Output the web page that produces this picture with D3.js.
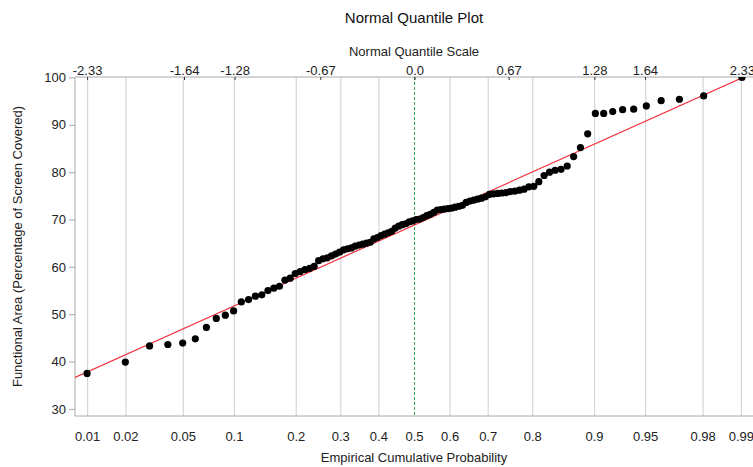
<!DOCTYPE html>
<html>
<head>
<meta charset="utf-8">
<script src="https://cdn.jsdelivr.net/npm/d3@7"></script>
<style>
body { margin: 0; background: #fff; }
svg { font-family: "Liberation Sans", Arial, Helvetica, sans-serif; }
</style>
</head>
<body>
<svg width="753" height="467"></svg>
<script>
// sorted observations, plotted at rank/(n+1)
var areaValues = [
	37.5, 39.9, 43.3, 43.6, 43.9, 44.8, 47.2, 49.1, 49.8, 50.7,
	52.6, 53.1, 53.8, 54.1, 55.0, 55.5, 55.9, 57.2, 57.6, 58.6,
	59.0, 59.4, 59.7, 60.1, 61.3, 61.7, 61.9, 62.3, 62.7, 63.1,
	63.6, 63.8, 64.0, 64.4, 64.6, 64.8, 65.0, 65.2, 65.9, 66.2,
	66.6, 66.9, 67.2, 67.5, 68.2, 68.6, 68.9, 69.1, 69.5, 69.7,
	70.0, 70.1, 70.4, 70.8, 71.1, 71.5, 72.0, 72.1, 72.2, 72.3,
	72.4, 72.6, 72.8, 73.0, 73.6, 73.9, 74.1, 74.3, 74.5, 74.8,
	75.3, 75.4, 75.5, 75.6, 75.7, 75.9, 76.0, 76.2, 76.4, 76.9,
	77.0, 78.0, 79.3, 80.0, 80.4, 80.6, 81.3, 83.3, 85.2, 88.1,
	92.4, 92.4, 92.8, 93.2, 93.3, 94.0, 95.1, 95.4, 96.1, 100.0
];
var fitLine = [68.85, 13.33]; // mean, std dev of the normal fit
var probTicks = [0.01, 0.02, 0.05, 0.1, 0.2, 0.3, 0.4, 0.5, 0.6, 0.7, 0.8, 0.9, 0.95, 0.98, 0.99];
var quantTicks = [-2.33, -1.64, -1.28, -0.67, 0.0, 0.67, 1.28, 1.64, 2.33];
var yTicks = [30, 40, 50, 60, 70, 80, 90, 100];

// inverse normal cdf (Acklam)
function probit(p) {
	var a = [-39.69683028665376, 220.9460984245205, -275.9285104469687, 138.3577518672690, -30.66479806614716, 2.506628277459239],
		b = [-54.47609879822406, 161.5858368580409, -155.6989798598866, 66.80131188771972, -13.28068155288572],
		c = [-0.007784894002430293, -0.3223964580411365, -2.400758277161838, -2.549732539343734, 4.374664141464968, 2.938163982698783],
		d = [0.007784695709041462, 0.3224671290700398, 2.445134137142996, 3.754408661907416];
	var q, r;
	if (p < 0.02425) {
		q = Math.sqrt(-2 * Math.log(p));
		return (((((c[0]*q+c[1])*q+c[2])*q+c[3])*q+c[4])*q+c[5]) / ((((d[0]*q+d[1])*q+d[2])*q+d[3])*q+1);
	} else if (p > 1 - 0.02425) {
		q = Math.sqrt(-2 * Math.log(1 - p));
		return -(((((c[0]*q+c[1])*q+c[2])*q+c[3])*q+c[4])*q+c[5]) / ((((d[0]*q+d[1])*q+d[2])*q+d[3])*q+1);
	}
	q = p - 0.5;
	r = q * q;
	return (((((a[0]*r+a[1])*r+a[2])*r+a[3])*r+a[4])*r+a[5])*q / (((((b[0]*r+b[1])*r+b[2])*r+b[3])*r+b[4])*r+1);
}

var svg = d3.select("svg");
var plotL = 75, plotR = 754, plotT = 77, plotB = 416;

var x = d3.scaleLinear().domain([-2.416, 2.416]).range([plotL, plotR]);
var y = d3.scaleLinear().domain([28.5, 100.1]).range([plotB, plotT]);

svg.append("clipPath").attr("id", "plotClip")
	.append("rect")
	.attr("x", plotL).attr("y", plotT)
	.attr("width", plotR - plotL).attr("height", plotB - plotT);

// vertical grid at probability ticks
svg.append("g")
	.selectAll("line")
	.data(probTicks.filter(function (p) { return p !== 0.5 }))
	.enter()
	.append("line")
	.attr("x1", function (d) { return x(probit(d)) })
	.attr("x2", function (d) { return x(probit(d)) })
	.attr("y1", plotT)
	.attr("y2", plotB)
	.attr("stroke", "#d6d6d6")
	.attr("stroke-width", 1.2);

svg.append("line")
	.attr("x1", x(0)).attr("x2", x(0))
	.attr("y1", plotT).attr("y2", plotB)
	.attr("stroke", "#2ea043")
	.attr("stroke-width", 1)
	.attr("stroke-dasharray", "3,2");

// frame
svg.append("line").attr("x1", plotL).attr("x2", plotR).attr("y1", plotT).attr("y2", plotT).attr("stroke", "#a8a8a8");
svg.append("line").attr("x1", plotL).attr("x2", plotR).attr("y1", plotB).attr("y2", plotB).attr("stroke", "#a8a8a8");
svg.append("line").attr("x1", plotL).attr("x2", plotL).attr("y1", plotT).attr("y2", plotB).attr("stroke", "#a8a8a8");

// y axis
var yAxis = svg.append("g")
	.attr("transform", "translate(" + plotL + ",0)")
	.call(d3.axisLeft(y).tickValues(yTicks).tickSize(6).tickPadding(3));
yAxis.select(".domain").remove();
yAxis.selectAll(".tick line").attr("stroke", "#a8a8a8");
yAxis.selectAll("text").attr("font-size", 13).attr("fill", "#222").style("font-family", "Liberation Sans, Arial, sans-serif");

// bottom probability labels
svg.append("g")
	.selectAll("text")
	.data(probTicks)
	.enter()
	.append("text")
	.attr("x", function (d) { return x(probit(d)) })
	.attr("y", 441)
	.attr("text-anchor", "middle")
	.attr("font-size", 13)
	.attr("fill", "#222")
	.text(function (d) { return d });

// top quantile axis
var topAxis = svg.append("g")
	.attr("transform", "translate(0," + plotT + ")")
	.call(d3.axisTop(x).tickValues(quantTicks).tickSize(-3).tickPadding(2)
		.tickFormat(function (d) { return d === 0 ? "0.0" : d.toFixed(2) }));
topAxis.select(".domain").remove();
topAxis.selectAll(".tick line").attr("stroke", "#333");
topAxis.selectAll("text").attr("font-size", 13).attr("fill", "#222").style("font-family", "Liberation Sans, Arial, sans-serif");

// fitted line
var plot = svg.append("g").attr("clip-path", "url(#plotClip)");

plot.append("line")
	.attr("x1", x(-2.416))
	.attr("y1", y(fitLine[0] + fitLine[1] * -2.416))
	.attr("x2", x(2.416))
	.attr("y2", y(fitLine[0] + fitLine[1] * 2.416))
	.attr("stroke", "#f0303c")
	.attr("stroke-width", 1.2);

var n = areaValues.length;
plot.selectAll("circle")
	.data(areaValues)
	.enter()
	.append("circle")
	.attr("cx", function (d, i) { return x(probit((i + 1) / (n + 1))) })
	.attr("cy", function (d) { return y(d) })
	.attr("r", 3.6)
	.attr("fill", "#000");

// titles
svg.append("text").attr("x", 414).attr("y", 23).attr("text-anchor", "middle")
	.attr("font-size", 15).attr("fill", "#111").text("Normal Quantile Plot");
svg.append("text").attr("x", 414).attr("y", 56).attr("text-anchor", "middle")
	.attr("font-size", 13).attr("fill", "#222").text("Normal Quantile Scale");
svg.append("text").attr("x", 414).attr("y", 462).attr("text-anchor", "middle")
	.attr("font-size", 13).attr("fill", "#222").text("Empirical Cumulative Probability");
svg.append("text")
	.attr("transform", "translate(22," + ((plotT + plotB) / 2) + ") rotate(-90)")
	.attr("text-anchor", "middle")
	.attr("font-size", 13).attr("fill", "#222")
	.text("Functional Area (Percentage of Screen Covered)");
</script>
</body>
</html>
